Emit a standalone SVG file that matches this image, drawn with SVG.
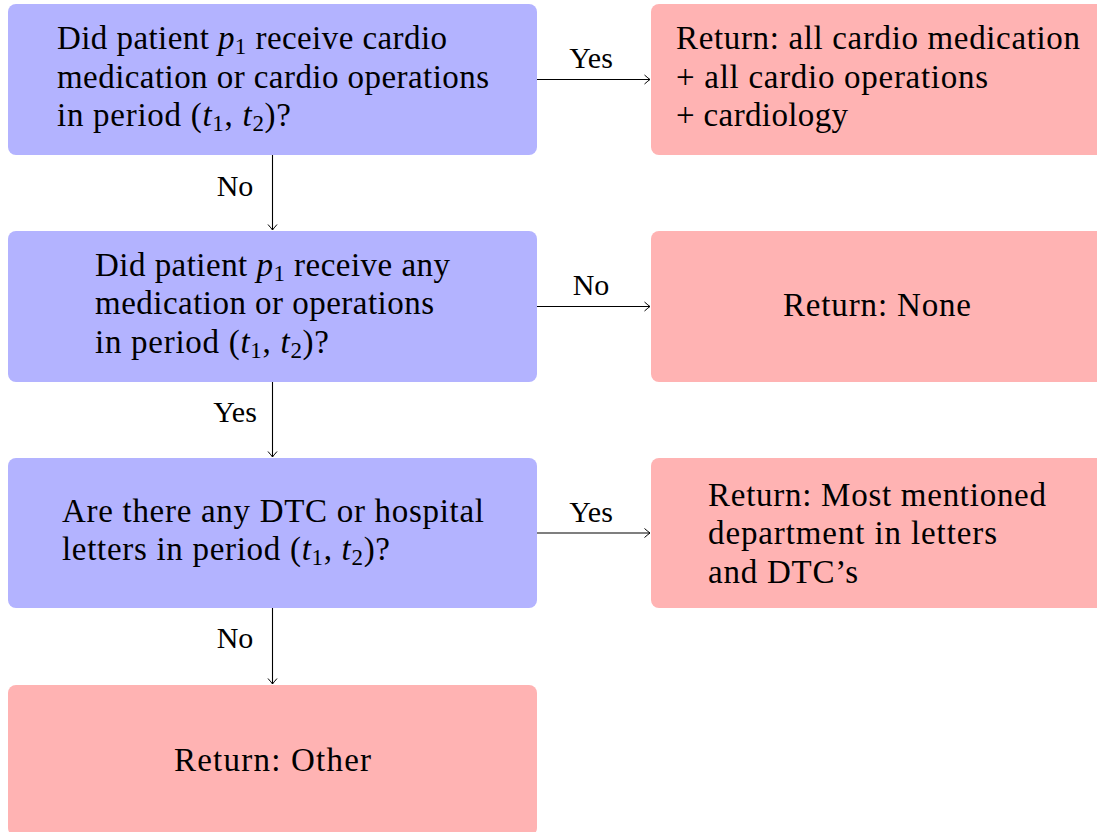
<svg xmlns="http://www.w3.org/2000/svg" width="1097" height="832" viewBox="0 0 1097 832">
<style>
.q{fill:#b3b3ff}
.r{fill:#ffb3b3}
.t{font-family:'Liberation Serif','Times New Roman',serif;font-size:33px;fill:#000}
.l{font-family:'Liberation Serif','Times New Roman',serif;font-size:30px;fill:#000;text-anchor:middle}
.m{font-style:italic}
.s{font-size:23px}
.c{fill:none;stroke:#000;stroke-width:1.1}
</style>
<defs>
<marker id="ah" viewBox="-7 -6 8 12" markerWidth="8" markerHeight="12" refX="0" refY="0" orient="auto" markerUnits="userSpaceOnUse">
<path d="M-5.5,-4.5 Q-1.5,-1 0,0 Q-1.5,1 -5.5,4.5" fill="none" stroke="#000" stroke-width="1"/>
</marker>
</defs>
<rect width="1097" height="832" fill="#fff"/>
<g id="q1">
<rect class="q" x="8" y="4" width="529" height="151" rx="8"/>
<text class="t" x="57" y="49" textLength="390" lengthAdjust="spacing">Did patient <tspan class="m">p</tspan><tspan class="s" dy="5">1</tspan><tspan dy="-5"> receive cardio</tspan></text>
<text class="t" x="57" y="88" textLength="432" lengthAdjust="spacing">medication or cardio operations</text>
<text class="t" x="57" y="126" textLength="234" lengthAdjust="spacing">in period (<tspan class="m">t</tspan><tspan class="s" dy="5">1</tspan><tspan dy="-5">, </tspan><tspan class="m">t</tspan><tspan class="s" dy="5">2</tspan><tspan dy="-5">)?</tspan></text>
</g>
<g id="r1">
<rect class="r" x="651" y="4" width="470" height="151" rx="8"/>
<text class="t" x="676" y="49" textLength="404" lengthAdjust="spacing">Return: all cardio medication</text>
<text class="t" x="676" y="88" textLength="312" lengthAdjust="spacing">+ all cardio operations</text>
<text class="t" x="676" y="126" textLength="172" lengthAdjust="spacing">+ cardiology</text>
</g>
<g id="q2">
<rect class="q" x="8" y="231" width="529" height="151" rx="8"/>
<text class="t" x="95" y="276" textLength="355" lengthAdjust="spacing">Did patient <tspan class="m">p</tspan><tspan class="s" dy="5">1</tspan><tspan dy="-5"> receive any</tspan></text>
<text class="t" x="95" y="314" textLength="339" lengthAdjust="spacing">medication or operations</text>
<text class="t" x="95" y="353" textLength="234" lengthAdjust="spacing">in period (<tspan class="m">t</tspan><tspan class="s" dy="5">1</tspan><tspan dy="-5">, </tspan><tspan class="m">t</tspan><tspan class="s" dy="5">2</tspan><tspan dy="-5">)?</tspan></text>
</g>
<g id="r2">
<rect class="r" x="651" y="231" width="470" height="151" rx="8"/>
<text class="t" x="877" y="316" text-anchor="middle" textLength="188" lengthAdjust="spacing">Return: None</text>
</g>
<g id="q3">
<rect class="q" x="8" y="458" width="529" height="150" rx="8"/>
<text class="t" x="62" y="522" textLength="422" lengthAdjust="spacing">Are there any DTC or hospital</text>
<text class="t" x="62" y="560" textLength="328" lengthAdjust="spacing">letters in period (<tspan class="m">t</tspan><tspan class="s" dy="5">1</tspan><tspan dy="-5">, </tspan><tspan class="m">t</tspan><tspan class="s" dy="5">2</tspan><tspan dy="-5">)?</tspan></text>
</g>
<g id="r3">
<rect class="r" x="651" y="458" width="470" height="150" rx="8"/>
<text class="t" x="708" y="506" textLength="338" lengthAdjust="spacing">Return: Most mentioned</text>
<text class="t" x="708" y="544" textLength="289" lengthAdjust="spacing">department in letters</text>
<text class="t" x="708" y="583" textLength="150" lengthAdjust="spacing">and DTC’s</text>
</g>
<g id="r4">
<rect class="r" x="8" y="685" width="529" height="151" rx="8"/>
<text class="t" x="272.5" y="771" text-anchor="middle" textLength="197" lengthAdjust="spacing">Return: Other</text>
</g>
<g id="connectors">
<path class="c" d="M537,79.5 H650" marker-end="url(#ah)"/>
<path class="c" d="M537,306.5 H650" marker-end="url(#ah)"/>
<path class="c" d="M537,533 H650" marker-end="url(#ah)"/>
<path class="c" d="M272.5,155 V230" marker-end="url(#ah)"/>
<path class="c" d="M272.5,382 V457" marker-end="url(#ah)"/>
<path class="c" d="M272.5,608 V684" marker-end="url(#ah)"/>
<text class="l" x="591" y="68">Yes</text>
<text class="l" x="591" y="295">No</text>
<text class="l" x="591" y="522">Yes</text>
<text class="l" x="235" y="196">No</text>
<text class="l" x="235" y="422">Yes</text>
<text class="l" x="235" y="648">No</text>
</g>
</svg>
